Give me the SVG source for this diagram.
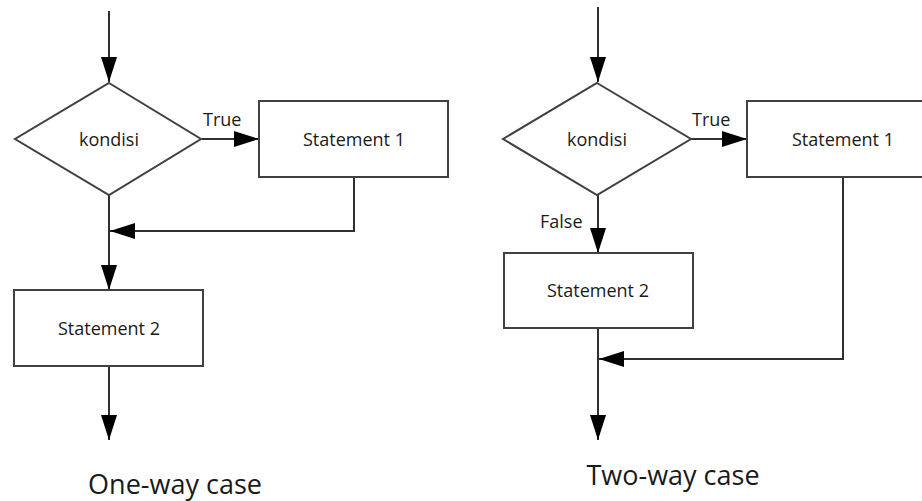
<svg xmlns="http://www.w3.org/2000/svg" width="922" height="501" viewBox="0 0 922 501">
<style>
  .shape { fill: #ffffff; stroke: #404040; stroke-width: 2; }
  .conn { fill: none; stroke: #303030; stroke-width: 2; marker-end: url(#arrow); }
  .lbl { font-family: "Open Sans", "Noto Sans", sans-serif; font-size: 18px; fill: #1a1a1a; }
  .mid { text-anchor: middle; dominant-baseline: central; }
  .title { font-family: "Open Sans", "Noto Sans", sans-serif; font-size: 27px; fill: #1a1a1a; text-anchor: middle; }
</style>
<defs>
  <marker id="arrow" markerUnits="userSpaceOnUse" markerWidth="25" markerHeight="16" refX="25" refY="8" orient="auto">
    <path d="M0,0 L25,8 L0,16 z" fill="#000000"/>
  </marker>
</defs>
<rect width="922" height="501" fill="#ffffff"/>

<g id="connectors">
  <!-- one-way -->
  <line class="conn" x1="109" y1="11" x2="109" y2="82"/>
  <line class="conn" x1="202" y1="139" x2="259" y2="139"/>
  <line class="conn" x1="109" y1="195" x2="109" y2="290"/>
  <polyline class="conn" points="354,177 354,231 110,231"/>
  <line class="conn" x1="109" y1="366" x2="109" y2="440"/>
  <!-- two-way -->
  <line class="conn" x1="598" y1="7" x2="598" y2="82"/>
  <line class="conn" x1="691" y1="139" x2="747" y2="139"/>
  <line class="conn" x1="598" y1="195" x2="598" y2="253"/>
  <polyline class="conn" points="843,177 843,359 599,359"/>
  <line class="conn" x1="598" y1="328" x2="598" y2="440"/>
  <text class="lbl" x="203" y="126">True</text>
  <text class="lbl" x="692" y="126">True</text>
  <text class="lbl" x="540" y="228">False</text>
</g>

<g id="cond1">
  <polygon class="shape" points="109,83 201,139 109,195 15,139"/>
  <text class="lbl mid" x="109" y="139">kondisi</text>
</g>
<g id="stmt1a">
  <rect class="shape" x="259" y="101" width="189" height="76"/>
  <text class="lbl mid" x="354" y="139">Statement 1</text>
</g>
<g id="stmt2a">
  <rect class="shape" x="14" y="290" width="189" height="76"/>
  <text class="lbl mid" x="109" y="328">Statement 2</text>
</g>

<g id="cond2">
  <polygon class="shape" points="597,83 691,139 597,195 503,139"/>
  <text class="lbl mid" x="597" y="139">kondisi</text>
</g>
<g id="stmt1b">
  <rect class="shape" x="747" y="101" width="189" height="76"/>
  <text class="lbl mid" x="843" y="139">Statement 1</text>
</g>
<g id="stmt2b">
  <rect class="shape" x="504" y="253" width="189" height="75"/>
  <text class="lbl mid" x="598" y="290">Statement 2</text>
</g>

<text class="title" x="175" y="494">One-way case</text>
<text class="title" x="673" y="485">Two-way case</text>
</svg>
